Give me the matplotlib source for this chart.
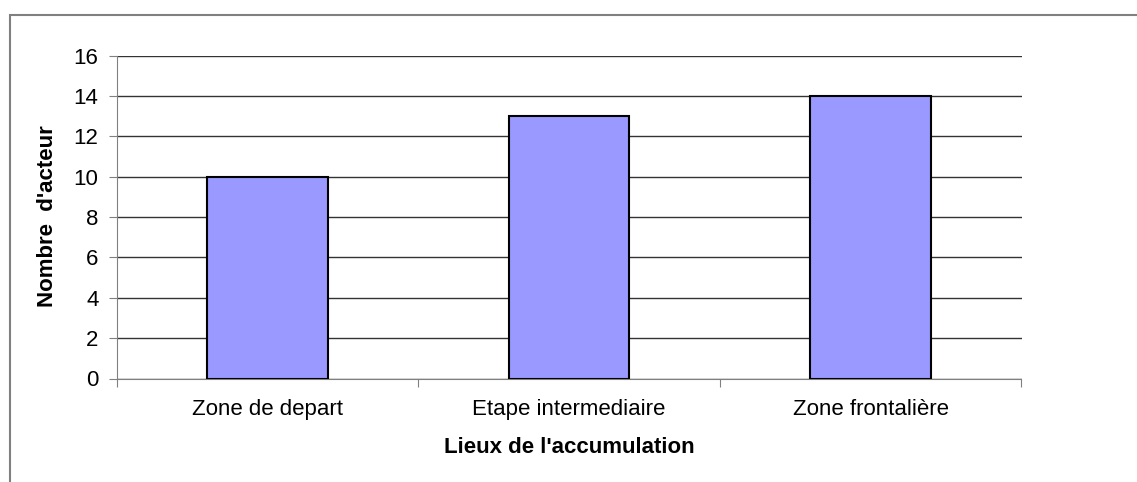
import matplotlib
matplotlib.use("Agg")
import matplotlib.pyplot as plt
from matplotlib.patches import Rectangle
from matplotlib.transforms import blended_transform_factory

categories = ["Zone de depart", "Etape intermediaire", "Zone frontalière"]
values = [10, 13, 14]
yticks = [0, 2, 4, 6, 8, 10, 12, 14, 16]

W, H = 1137, 482
fig = plt.figure(figsize=(W / 100, H / 100), dpi=100)
plt.rcParams['font.family'] = ['Liberation Sans', 'DejaVu Sans']
FS = 16

# outer border
fig.patches.append(Rectangle((9.5 / W, -0.1), 1.2, 1 - 14.5 / H + 0.1,
                             transform=fig.transFigure, fill=False,
                             edgecolor='#808080', linewidth=1.5))

left, right, top, bottom = 116.5, 1021.5, 55.5, 378.5
ax = fig.add_axes([left / W, 1 - bottom / H, (right - left) / W, (bottom - top) / H])

x = list(range(len(categories)))
ax.bar(x, values, width=0.4, color='#9999FF', edgecolor='black', linewidth=1.5, zorder=3)
ax.set_xlim(-0.5, len(categories) - 0.5)
ax.set_ylim(0, 16)
ax.set_yticks(yticks)
ax.set_yticklabels([str(v) for v in yticks], fontsize=FS)
ax.yaxis.grid(True, color='#333333', linewidth=1)
ax.set_axisbelow(True)
for s in ['top', 'right']:
    ax.spines[s].set_visible(False)
ax.spines['left'].set_color('#808080')
ax.spines['bottom'].set_color('#808080')
ax.tick_params(axis='y', length=6, color='#808080', pad=7)
ax.set_xticks([i - 0.5 for i in range(len(categories) + 1)])
ax.set_xticklabels([])
ax.tick_params(axis='x', length=6, color='#808080')

tr = blended_transform_factory(ax.transData, fig.transFigure)
for i, c in enumerate(categories):
    ax.text(i, 1 - 415 / H, c, ha='center', va='baseline', fontsize=FS, transform=tr)
ax.text(1, 1 - 453 / H, "Lieux de l'accumulation", ha='center', va='baseline',
        fontsize=FS, fontweight='bold', transform=tr)
fig.text(53 / W, 1 - 216 / H, "Nombre  d'acteur", rotation=90, rotation_mode='anchor',
         ha='center', va='baseline', fontsize=FS, fontweight='bold')

fig.savefig("out.png", dpi=100)
